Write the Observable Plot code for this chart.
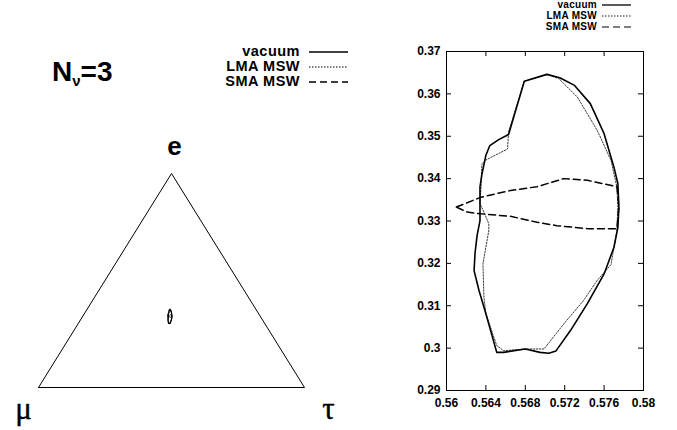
<!DOCTYPE html>
<html>
<head>
<meta charset="utf-8">
<script src="https://cdn.jsdelivr.net/npm/d3@7"></script>
<script src="https://cdn.jsdelivr.net/npm/@observablehq/plot@0.6"></script>
<style>
  html, body { margin: 0; padding: 0; background: #fff; }
  #page { position: relative; width: 677px; height: 430px; overflow: hidden; background: #fff; }
  .abs { position: absolute; }
  .lbl { font-family: "Liberation Sans", Arial, sans-serif; font-weight: bold; line-height: 1; white-space: nowrap; color: #000; }
</style>
</head>
<body>
<div id="page"></div>
<script>
// ---------- data ----------
const seriesNames = ["vacuum", "LMA MSW", "SMA MSW"];

// vacuum (solid) closed contour
const vacX = [0.5702, 0.5715, 0.5730, 0.5746, 0.5760, 0.5770, 0.5774, 0.5775, 0.5774, 0.5770, 0.5760, 0.5743, 0.5726, 0.5711, 0.5704, 0.5695, 0.5680, 0.5658, 0.5651, 0.5640, 0.5633, 0.5628, 0.5629, 0.5631, 0.5634, 0.5634, 0.5636, 0.5640, 0.5644, 0.5653, 0.5663, 0.5679];
const vacY = [0.3646, 0.3638, 0.3620, 0.3577, 0.3506, 0.3427, 0.3388, 0.3333, 0.3285, 0.3238, 0.3175, 0.3105, 0.3042, 0.2993, 0.2988, 0.2990, 0.2998, 0.2990, 0.2990, 0.3081, 0.3136, 0.3183, 0.3225, 0.3265, 0.3301, 0.3380, 0.3411, 0.3455, 0.3478, 0.3492, 0.3504, 0.3630];

// LMA MSW (dotted) closed contour
const lmaX = [0.5702, 0.5714, 0.5733, 0.5753, 0.5767, 0.5773, 0.5774, 0.5773, 0.5767, 0.5753, 0.5739, 0.5719, 0.5699, 0.5680, 0.5658, 0.5651, 0.5640, 0.5638, 0.5637, 0.5643, 0.5643, 0.5638, 0.5634, 0.5635, 0.5636, 0.5640, 0.5662, 0.5663, 0.5679];
const lmaY = [0.3646, 0.3636, 0.3592, 0.3514, 0.3443, 0.3380, 0.3333, 0.3278, 0.3197, 0.3160, 0.3112, 0.3057, 0.2998, 0.2998, 0.2994, 0.3006, 0.3081, 0.3120, 0.3199, 0.3278, 0.3293, 0.3321, 0.3341, 0.3380, 0.3435, 0.3444, 0.3470, 0.3510, 0.3630];

// SMA MSW (dashed) closed contour
const smaX = [0.5610, 0.5635, 0.5665, 0.5692, 0.5719, 0.5743, 0.5773, 0.5775, 0.5773, 0.5743, 0.5712, 0.5692, 0.5665, 0.5635, 0.5621];
const smaY = [0.3333, 0.3356, 0.3372, 0.3381, 0.3400, 0.3396, 0.3381, 0.3333, 0.3282, 0.3282, 0.3289, 0.3297, 0.3311, 0.3317, 0.3321];

// axis ticks (right panel)
const xTicks = [0.56, 0.564, 0.568, 0.572, 0.576, 0.58];
const yTicks = [0.29, 0.30, 0.31, 0.32, 0.33, 0.34, 0.35, 0.36, 0.37];

// flavour triangle (left panel), unit coordinates
const triX = [0, 0.5, 1, 0];
const triY = [0, 1, 0, 0];
const vertexNames = ["e", "μ", "τ"];
const vertexX = [0.5, 0, 1];
const vertexY = [1, 0, 0];
const ellipseCenterX = 0.494; // horizontal place of the region in the triangle

// ---------- helpers ----------
const closed = (xs, ys) => {
  const pts = xs.map((x, i) => ({x, y: ys[i]}));
  pts.push(pts[0]);
  return pts;
};
const vac = closed(vacX, vacY);
const lma = closed(lmaX, lmaY);
const sma = closed(smaX, smaY);
const fmt = d3.format("~g");

const page = document.getElementById("page");

// ---------- left panel ----------
const shift = (d3.min(vacX) + d3.max(vacX)) / 2 - ellipseCenterX;
const tri = triX.map((x, i) => ({x, y: triY[i]}));
const verts = vertexNames.map((name, i) => ({name, x: vertexX[i], y: vertexY[i]}));

const left = Plot.plot({
  width: 350, height: 430,
  marginLeft: 38, marginRight: 46, marginTop: 173, marginBottom: 43,
  x: {domain: [0, 1], axis: null},
  y: {domain: [0, 1], axis: null},
  style: {background: "transparent", overflow: "visible"},
  marks: [
    Plot.line(tri, {x: "x", y: "y", stroke: "black", strokeWidth: 1}),
    Plot.line(sma, {x: d => d.x - shift, y: "y", stroke: "black", strokeWidth: 0.8}),
    Plot.line(lma, {x: d => d.x - shift, y: "y", stroke: "black", strokeWidth: 1}),
    Plot.line(vac, {x: d => d.x - shift, y: "y", stroke: "black", strokeWidth: 1.2}),
    Plot.text(verts.filter(d => d.name === "e"), {x: "x", y: "y", text: "name", dx: 3, dy: -27,
      fontFamily: "Liberation Sans", fontWeight: "bold", fontSize: 26, fill: "black"}),
    Plot.text(verts.filter(d => d.name === "μ"), {x: "x", y: "y", text: "name", dx: -15, dy: 22,
      fontFamily: "Liberation Serif", fontSize: 31, fill: "black", stroke: "black", strokeWidth: 0.4}),
    Plot.text(verts.filter(d => d.name === "τ"), {x: "x", y: "y", text: "name", dx: 24, dy: 22,
      fontFamily: "Liberation Serif", fontSize: 31, fill: "black", stroke: "black", strokeWidth: 0.4})
  ]
});
left.classList.add("abs");
left.style.left = "0px"; left.style.top = "0px";
page.appendChild(left);

// ---------- right panel ----------
const W = 317, H = 430, mL = 86, mR = 34, mT = 51, mB = 40;
const innerW = W - mL - mR, innerH = H - mT - mB, tk = 5;
const right = Plot.plot({
  width: W, height: H,
  marginLeft: mL, marginRight: mR, marginTop: mT, marginBottom: mB,
  x: {domain: [0.56, 0.58]},
  y: {domain: [0.29, 0.37]},
  style: {background: "transparent", fontFamily: "Liberation Sans", fontWeight: "bold", fontSize: "12px", color: "black"},
  marks: [
    Plot.axisX({ticks: xTicks, tickSize: 0, tickPadding: 8, tickFormat: fmt, label: null, anchor: "bottom"}),
    Plot.axisY({ticks: yTicks, tickSize: 0, tickPadding: 6, tickFormat: fmt, label: null, anchor: "left"}),
    Plot.ruleX(xTicks, {insetTop: innerH - tk, stroke: "black"}),
    Plot.ruleX(xTicks, {insetBottom: innerH - tk, stroke: "black"}),
    Plot.ruleY(yTicks, {insetRight: innerW - tk, stroke: "black"}),
    Plot.ruleY(yTicks, {insetLeft: innerW - tk, stroke: "black"}),
    Plot.frame({stroke: "black", strokeWidth: 1}),
    Plot.line(sma, {x: "x", y: "y", stroke: "black", strokeWidth: 1.5, strokeDasharray: "7,4"}),
    Plot.line(lma, {x: "x", y: "y", stroke: "#222", strokeWidth: 0.9, strokeDasharray: "1.5,1.5"}),
    Plot.line(vac, {x: "x", y: "y", stroke: "black", strokeWidth: 1.6})
  ]
});
right.classList.add("abs");
right.style.left = "360px"; right.style.top = "0px";
page.appendChild(right);

// ---------- title & legends ----------
const title = document.createElement("div");
title.className = "abs lbl";
title.style.left = "52px"; title.style.top = "58px"; title.style.fontSize = "28px";
title.innerHTML = 'N<span style="font-size:15px;position:relative;top:5px;">ν</span>=3';
page.appendChild(title);

const dashes = ["none", "1.5,1.5", "7,4"];
function legend({textRight, baselines, fontSize, spacing, lineX1, lineX2, lineOffset, strokeW}) {
  seriesNames.forEach((name, i) => {
    const t = document.createElement("div");
    t.className = "abs lbl";
    t.textContent = name;
    t.style.fontSize = fontSize + "px";
    t.style.letterSpacing = spacing + "px";
    t.style.right = (677 - textRight) + "px";
    t.style.top = (baselines[i] - 0.8465 * fontSize) + "px";
    page.appendChild(t);
    const svg = d3.create("svg").attr("width", lineX2 - lineX1).attr("height", 6)
      .style("position", "absolute").style("left", lineX1 + "px").style("top", (baselines[i] - lineOffset - 3) + "px");
    svg.append("line").attr("x1", 0).attr("x2", lineX2 - lineX1).attr("y1", 3).attr("y2", 3)
      .attr("stroke", "black").attr("stroke-width", strokeW[i])
      .attr("stroke-dasharray", dashes[i] === "none" ? null : dashes[i]);
    page.appendChild(svg.node());
  });
}
legend({textRight: 300, baselines: [56, 71, 86], fontSize: 14.5, spacing: 0.5, lineX1: 309, lineX2: 348, lineOffset: 4, strokeW: [1.6, 1, 1.5]});
legend({textRight: 597, baselines: [8, 19, 30], fontSize: 10, spacing: 0.3, lineX1: 602, lineX2: 631, lineOffset: 3, strokeW: [1.3, 0.9, 1.2]});
</script>
</body>
</html>
